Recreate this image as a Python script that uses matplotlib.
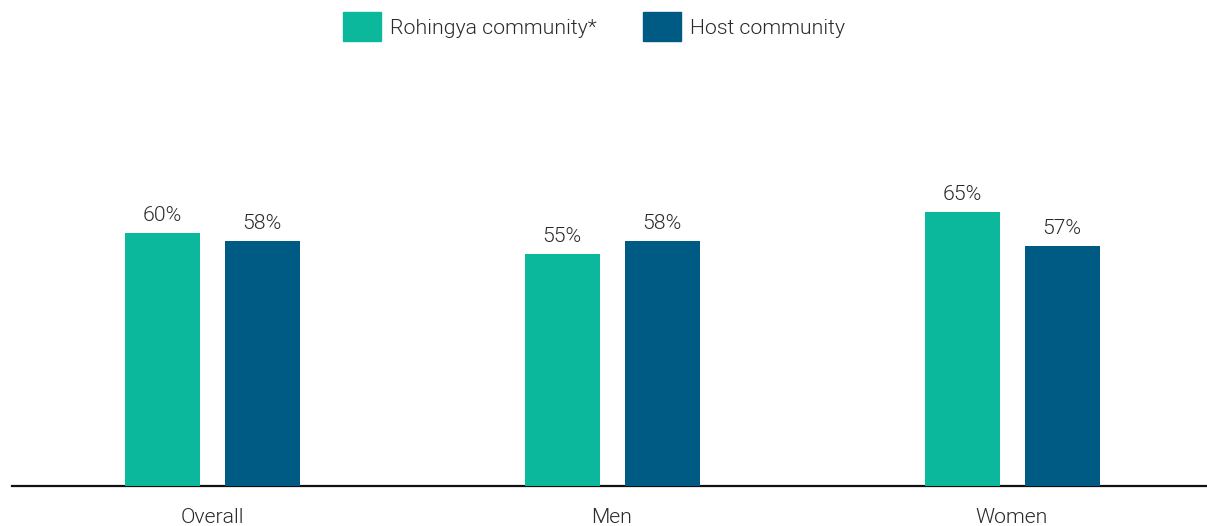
import matplotlib
matplotlib.use("Agg")
import matplotlib.pyplot as plt
from matplotlib.patches import Rectangle
import numpy as np

categories = ["Overall", "Men", "Women"]
series_names = ["Rohingya community*", "Host community"]
rohingya = [60, 55, 65]
host = [58, 58, 57]
colors = ["#0bb89c", "#005b84"]
text_c = "#2a2a2a"

plt.rcParams["font.family"] = ["Roboto", "DejaVu Sans"]
plt.rcParams["font.weight"] = 300

W, H = 1207, 526
fig = plt.figure(figsize=(W / 100, H / 100), dpi=100)
# axes: baseline at y=486 px, 100% = ~422 px, group centres 400 px apart
ax = fig.add_axes([12 / W, 40 / H, 1 - 12 / W, 421.7 / H])

x = np.arange(len(categories))
w = 75 / 400
off = 50 / 400
for vals, dx, c in [(rohingya, -off, colors[0]), (host, off, colors[1])]:
    bars = ax.bar(x + dx, vals, w, color=c, zorder=3)
    for b, v in zip(bars, vals):
        ax.annotate(f"{v}%", (b.get_x() + b.get_width() / 2, v),
                    xytext=(0, 8), textcoords="offset pixels",
                    ha="center", va="bottom", fontsize=15.3, color=text_c)

ax.set_xlim(-0.5, 2.4875)
ax.set_ylim(0, 100)
ax.set_yticks([])
ax.set_xticks(x, categories)
ax.tick_params(axis="x", length=0, pad=16, labelsize=15.3, labelcolor=text_c)
for s in ["top", "right", "left"]:
    ax.spines[s].set_visible(False)
ax.spines["bottom"].set_linewidth(1.6)
ax.spines["bottom"].set_color("#111111")
ax.spines["bottom"].set_zorder(2)
ax.patch.set_alpha(0)

# legend drawn by hand at the top
for (px, name), c in zip([(343, series_names[0]), (643, series_names[1])], colors):
    fig.patches.append(Rectangle((px / W, (H - 41) / H), 38 / W, 29 / H,
                                 transform=fig.transFigure, color=c))
    fig.text((px + 47) / W, (H - 29) / H, name, fontsize=15.3,
             color=text_c, va="center", ha="left")

fig.savefig("out.png", dpi=100)
